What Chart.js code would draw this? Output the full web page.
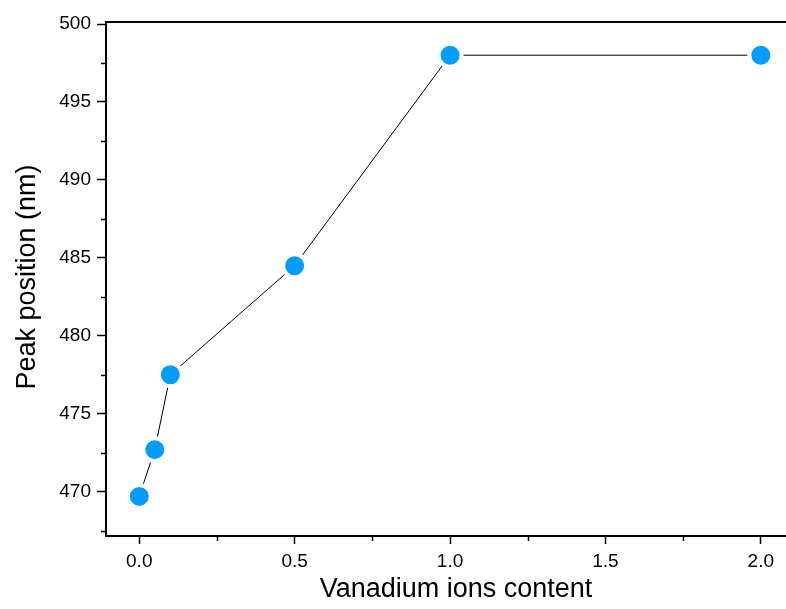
<!DOCTYPE html>
<html>
<head>
<meta charset="utf-8">
<script src="https://cdn.jsdelivr.net/npm/chart.js@4/dist/chart.umd.min.js"></script>
<style>
  html, body { margin: 0; padding: 0; background: #fff; overflow: hidden; }
  #wrap { width: 786px; height: 609px; }
</style>
</head>
<body>
<div id="wrap"><canvas id="c" width="786" height="609"></canvas></div>
<script>
// Peak position versus vanadium ion content
const vanadiumContent = [0, 0.05, 0.1, 0.5, 1.0, 2.0];
const peakPosition = [469.7, 472.7, 477.5, 484.5, 498.0, 498.0];

const xTicks = [0, 0.5, 1.0, 1.5, 2.0];
const xMinorTicks = [0.25, 0.75, 1.25, 1.75];
const yTicks = [470, 475, 480, 485, 490, 495, 500];
const yMinorTicks = [467.5, 472.5, 477.5, 482.5, 487.5, 492.5, 497.5];

const xTitle = 'Vanadium ions content';
const yTitle = 'Peak position (nm)';

const FONT = '"Liberation Sans", Arial, sans-serif';

// Frame top line, minor ticks and axis titles
const framePlugin = {
  id: 'frame',
  afterDraw(chart) {
    const { ctx, chartArea: a, scales } = chart;
    ctx.save();
    ctx.strokeStyle = '#000';
    ctx.lineWidth = 2;
    ctx.beginPath();
    ctx.moveTo(a.left - 1, a.top);
    ctx.lineTo(a.right, a.top);
    ctx.stroke();

    ctx.lineWidth = 1.5;
    ctx.beginPath();
    xMinorTicks.forEach(v => {
      const px = Math.round(scales.x.getPixelForValue(v)) + 0.5;
      ctx.moveTo(px, a.bottom);
      ctx.lineTo(px, a.bottom + 5);
    });
    yMinorTicks.forEach(v => {
      const py = Math.round(scales.y.getPixelForValue(v)) + 0.5;
      ctx.moveTo(a.left, py);
      ctx.lineTo(a.left - 5, py);
    });
    ctx.stroke();

    ctx.fillStyle = '#000';
    ctx.font = '27px ' + FONT;
    ctx.textAlign = 'center';
    ctx.textBaseline = 'alphabetic';
    ctx.fillText(xTitle, 456, 597);

    ctx.translate(35, 277);
    ctx.rotate(-Math.PI / 2);
    ctx.fillText(yTitle, 0, 0);
    ctx.restore();
  }
};

new Chart(document.getElementById('c'), {
  type: 'scatter',
  data: {
    datasets: [{
      data: vanadiumContent.map((x, i) => ({ x, y: peakPosition[i] })),
      showLine: true,
      borderColor: '#000',
      borderWidth: 1,
      pointRadius: 11.5,
      pointHoverRadius: 11.5,
      pointBackgroundColor: '#009CFF',
      pointBorderColor: '#ffffff',
      pointBorderWidth: 4,
      tension: 0
    }]
  },
  options: {
    responsive: false,
    devicePixelRatio: 1,
    animation: false,
    layout: { autoPadding: false, padding: { top: 22, right: 0, left: 0, bottom: 0 } },
    plugins: {
      legend: { display: false },
      tooltip: { enabled: false }
    },
    scales: {
      x: {
        type: 'linear',
        min: -0.107,
        max: 2.081,
        afterBuildTicks: s => { s.ticks = xTicks.map(v => ({ value: v })); },
        afterFit: s => { s.height = 609 - 536; },
        border: { display: true, color: '#000', width: 2 },
        grid: { drawOnChartArea: false, drawTicks: true, tickLength: 8, tickColor: '#000', tickWidth: 1.5 },
        ticks: {
          color: '#000',
          font: { family: FONT, size: 19 },
          padding: 6,
          maxRotation: 0,
          callback: v => v.toFixed(1)
        }
      },
      y: {
        type: 'linear',
        min: 467.16,
        max: 500.13,
        afterBuildTicks: s => { s.ticks = yTicks.map(v => ({ value: v })); },
        afterFit: s => { s.width = 106; },
        border: { display: true, color: '#000', width: 2 },
        grid: { drawOnChartArea: false, drawTicks: true, tickLength: 9, tickColor: '#000', tickWidth: 1.5 },
        ticks: {
          color: '#000',
          font: { family: FONT, size: 19 },
          padding: 6,
          callback: v => String(v)
        }
      }
    }
  },
  plugins: [framePlugin]
});
</script>
</body>
</html>
